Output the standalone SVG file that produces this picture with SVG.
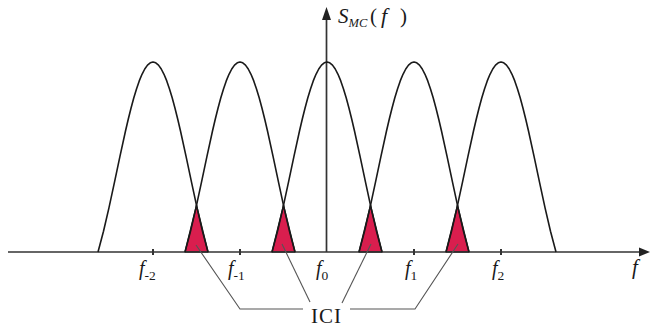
<svg xmlns="http://www.w3.org/2000/svg" xmlns:xlink="http://www.w3.org/1999/xlink" width="650" height="327" viewBox="0 0 650 327">
<style>
.lobe{fill:none;stroke:#1a1a1a;stroke-width:1.6;stroke-linejoin:round}
.ici{fill:#d91e4e;stroke:#1a1a1a;stroke-width:1.4;stroke-linejoin:round}
.axis{stroke:#333;stroke-width:1.7;fill:none}
.conn{stroke:#555;stroke-width:1.1;fill:none}
.tick{stroke:#333;stroke-width:2}
.lbl{font-family:"Liberation Serif","Times New Roman",serif;fill:#1a1a1a}
.it{font-style:italic}
</style>
<defs>
<path id="lobe" d="M-55,0 L-49.5,-20.8 L-44,-44.4 L-38.5,-69.9 L-33,-95.9 L-27.5,-121 L-24.75,-132.7 L-22,-143.8 L-19.25,-154 L-16.5,-163.1 L-13.75,-171.1 L-11,-177.7 L-8.25,-183 L-5.5,-186.9 L-2.75,-189.2 L0,-190 L2.75,-189.2 L5.5,-186.9 L8.25,-183 L11,-177.7 L13.75,-171.1 L16.5,-163.1 L19.25,-154 L22,-143.8 L24.75,-132.7 L27.5,-121 L33,-95.9 L38.5,-69.9 L44,-44.4 L49.5,-20.8 L55,0"/>
</defs>
<rect width="650" height="327" fill="#fff"/>
<g id="ici-regions">
<polygon class="ici" points="185,252 196.5,205.3 208,252"/>
<polygon class="ici" points="272,252 283.5,205.3 295,252"/>
<polygon class="ici" points="359,252 370.5,205.3 382,252"/>
<polygon class="ici" points="446,252 457.5,205.3 469,252"/>
</g>
<g id="axes">
<line class="axis" x1="8" y1="252" x2="642" y2="252"/>
<polygon points="639,247.5 650,252 639,256.5" fill="#222"/>
<line class="axis" x1="326.5" y1="252" x2="326.5" y2="18"/>
<polygon points="322,20 326.5,7 331,20" fill="#222"/>
<line class="tick" x1="153" y1="249" x2="153" y2="255"/>
<line class="tick" x1="240" y1="249" x2="240" y2="255"/>
<line class="tick" x1="414" y1="249" x2="414" y2="255"/>
<line class="tick" x1="501" y1="249" x2="501" y2="255"/>
</g>
<g id="lobes">
<use xlink:href="#lobe" class="lobe" transform="translate(153,252)"/>
<use xlink:href="#lobe" class="lobe" transform="translate(240,252)"/>
<use xlink:href="#lobe" class="lobe" transform="translate(327,252)"/>
<use xlink:href="#lobe" class="lobe" transform="translate(414,252)"/>
<use xlink:href="#lobe" class="lobe" transform="translate(501,252)"/>
</g>
<g id="connectors">
<polyline class="conn" points="196,245 240,309 303,309"/>
<line class="conn" x1="282" y1="244" x2="310" y2="302"/>
<line class="conn" x1="371" y1="244" x2="342" y2="303"/>
<polyline class="conn" points="458,244 415,309 350,309"/>
</g>
<g id="labels" class="lbl">
<text x="338" y="23" font-size="21" class="it">S<tspan font-size="12.5" dy="4">MC</tspan></text>
<text x="370" y="23" font-size="21">(</text>
<text x="381" y="23" font-size="22" class="it">f</text>
<text x="400" y="23" font-size="21">)</text>
<text x="139" y="275" font-size="20" class="it">f<tspan font-size="13.5" font-style="normal" dy="5">-2</tspan></text>
<text x="228" y="275" font-size="20" class="it">f<tspan font-size="13.5" font-style="normal" dy="5">-1</tspan></text>
<text x="316" y="275" font-size="20" class="it">f<tspan font-size="13.5" font-style="normal" dy="5">0</tspan></text>
<text x="405" y="275" font-size="20" class="it">f<tspan font-size="13.5" font-style="normal" dy="5">1</tspan></text>
<text x="492" y="275" font-size="20" class="it">f<tspan font-size="13.5" font-style="normal" dy="5">2</tspan></text>
<text x="632" y="274" font-size="21" class="it">f</text>
<text x="326.5" y="323" font-size="21" text-anchor="middle" letter-spacing="1">ICI</text>
</g>
</svg>
